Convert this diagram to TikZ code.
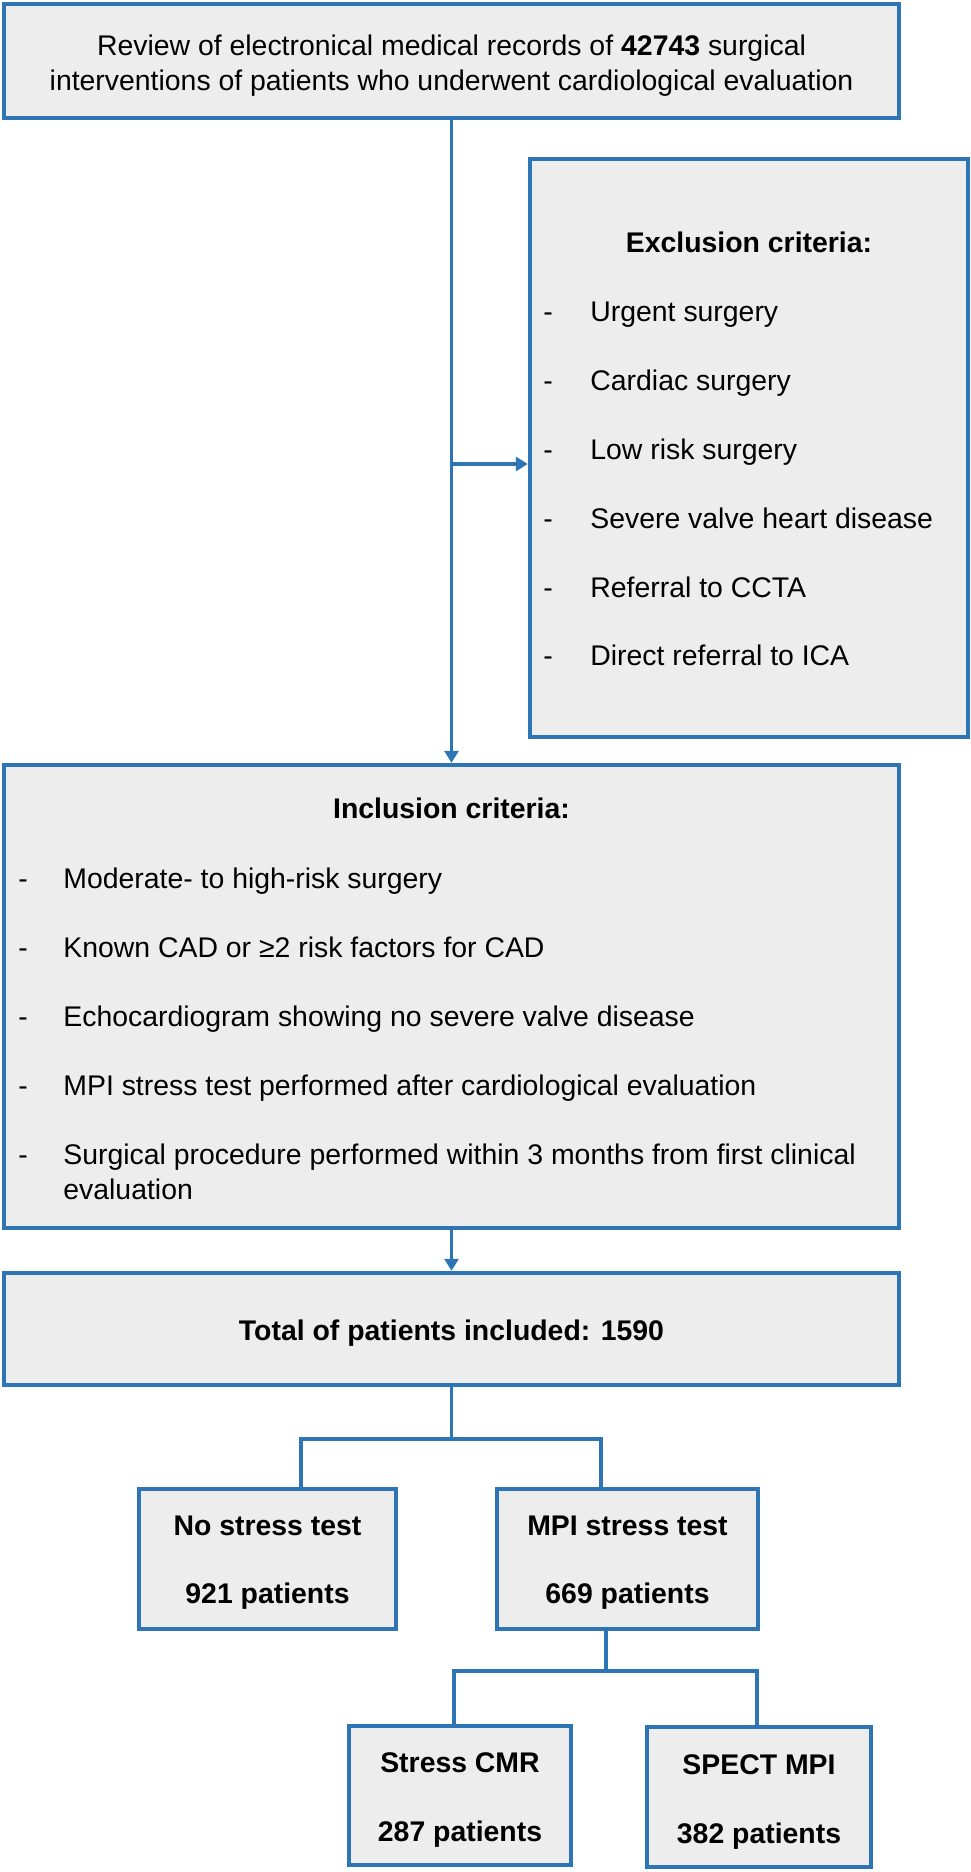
\documentclass[tikz,border=0pt]{standalone}
\usepackage{fontspec}
\setmainfont{Liberation Sans}
\usetikzlibrary{arrows.meta}
\definecolor{bordblue}{RGB}{46,117,182}
\definecolor{boxgray}{RGB}{237,237,237}
\begin{document}
\begin{tikzpicture}[x=0.5pt,y=-0.5pt,
  box/.style 2 args={draw=bordblue, fill=boxgray, line width=2.2pt, inner sep=0pt,
    minimum width=#1*0.5pt, minimum height=#2*0.5pt},
  txt/.style={inner sep=0pt, text height=10.2pt, text depth=0pt,
    font=\fontsize{14.2pt}{17.5pt}\selectfont},
  btxt/.style={inner sep=0pt, text height=10.2pt, text depth=0pt,
    font=\fontsize{14.2pt}{17.5pt}\selectfont\bfseries},
  conn/.style={draw=bordblue, line width=1.7pt},
  arr/.style={conn, -{Triangle[width=7pt,length=6pt]}},
]
\useasboundingbox (0,0) rectangle (970,1872);

% boxes
\node[box={895}{114}] (top) at (451.5,61) {};
\node[box={438}{578}] (excl) at (749,448) {};
\node[box={895}{463}] (incl) at (451.5,996.5) {};
\node[box={895}{112}] (total) at (451.5,1329) {};
\node[box={257}{140}] (nost) at (267.5,1559) {};
\node[box={261}{140}] (mpi) at (627.5,1559) {};
\node[box={222}{139}] (cmr) at (460,1795.5) {};
\node[box={224}{140}] (spect) at (759,1797) {};

% top text
\node[txt] (t1) at (451.5,45) {Review of electronical medical records of \textbf{42743} surgical};
\node[txt] (t2) at (451.5,80) {interventions of patients who underwent cardiological evaluation};

% exclusion
\node[btxt] (exh) at (749,242) {Exclusion criteria:};
\foreach \y/\t [count=\i] in {311/Urgent surgery, 380/Cardiac surgery, 449/Low risk surgery,
  518/Severe valve heart disease, 587/Referral to CCTA, 655/Direct referral to ICA} {
  \node[txt, anchor=west] (exd\i) at (543,\y) {-};
  \node[txt, anchor=west] (ext\i) at (590,\y) {\t};
}

% inclusion
\node[btxt] (inh) at (451.5,808) {Inclusion criteria:};
\foreach \y/\t [count=\i] in {878/Moderate- to high-risk surgery,
  947/Known CAD or ≥2 risk factors for CAD,
  1016/Echocardiogram showing no severe valve disease,
  1085/MPI stress test performed after cardiological evaluation,
  1154/Surgical procedure performed within 3 months from first clinical} {
  \node[txt, anchor=west] (ind\i) at (18,\y) {-};
  \node[txt, anchor=west] (int\i) at (63,\y) {\t};
}
\node[txt, anchor=west] (int6) at (63,1189) {evaluation};

% total
\node[btxt] (tott) at (451.5,1330) {Total of patients included: 1590};

% small boxes text
\node[btxt] (n1) at (267.5,1525) {No stress test};
\node[btxt] (n2) at (267.5,1593) {921 patients};
\node[btxt] (m1) at (627.5,1525) {MPI stress test};
\node[btxt] (m2) at (627.5,1593) {669 patients};
\node[btxt] (c1) at (460,1762) {Stress CMR};
\node[btxt] (c2) at (460,1831) {287 patients};
\node[btxt] (s1) at (759,1764) {SPECT MPI};
\node[btxt] (s2) at (759,1833) {382 patients};

% connectors
\coordinate (br) at (451.5,464);
\draw[arr] (top.south) -- (incl.north);
\draw[arr] (br) -- (excl.west |- br);
\draw[arr] (incl.south) -- (total.north);

\coordinate (sj) at (451.5,1439);
\coordinate (sl) at (301,1439);
\coordinate (sr) at (601,1439);
\draw[conn] (total.south) -- (sj);
\draw[conn] (nost.north -| sl) -- (sl) -- (sr) -- (mpi.north -| sr);

\coordinate (tj) at (606,1671);
\coordinate (tl) at (454,1671);
\coordinate (tr) at (757,1671);
\draw[conn] (mpi.south -| tj) -- (tj);
\draw[conn] (cmr.north -| tl) -- (tl) -- (tr) -- (spect.north -| tr);
\end{tikzpicture}
\end{document}
